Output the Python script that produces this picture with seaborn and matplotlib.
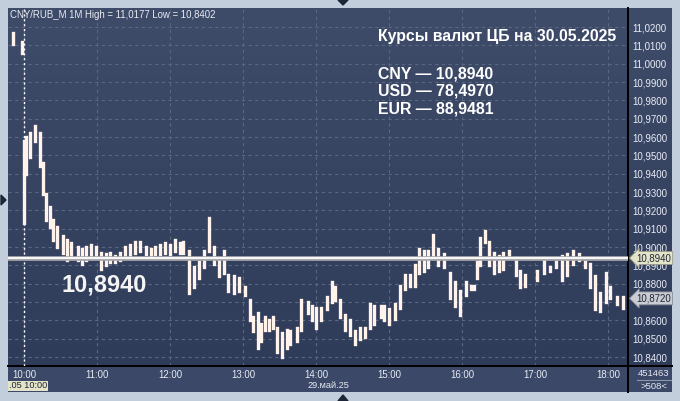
import numpy as np
import pandas as pd
import matplotlib
matplotlib.use("Agg")
import matplotlib.pyplot as plt
import seaborn as sns
from matplotlib.patches import Polygon
from matplotlib.lines import Line2D

# ---------------- data ----------------
bar_times = ["09:51", "09:58", "10:00", "10:02", "10:05", "10:09", "10:13", "10:16", "10:18", "10:21",
             "10:24", "10:27", "10:32", "10:35", "10:39", "10:44", "10:48", "10:51", "10:55", "10:59",
             "11:03", "11:07", "11:11", "11:15", "11:19", "11:23", "11:27", "11:31", "11:35", "11:40",
             "11:44", "11:48", "11:52", "11:56", "12:00", "12:04", "12:08", "12:11", "12:16", "12:20",
             "12:24", "12:28", "12:32", "12:36", "12:40", "12:44", "12:48", "12:53", "12:57", "13:02",
             "13:06", "13:08", "13:12", "13:15", "13:18", "13:21", "13:25", "13:28", "13:32", "13:36",
             "13:39", "13:44", "13:48", "13:53", "13:57", "14:00", "14:04", "14:09", "14:13", "14:16",
             "14:20", "14:24", "14:28", "14:32", "14:36", "14:40", "14:44", "14:48", "14:53", "14:56",
             "15:00", "15:05", "15:09", "15:13", "15:17", "15:21", "15:25", "15:29", "15:32", "15:36",
             "15:40", "15:45", "15:50", "15:54", "15:58", "16:03", "16:07", "16:10", "16:12", "16:15",
             "16:19", "16:22", "16:26", "16:30", "16:34", "16:39", "16:44", "16:48", "16:52", "17:02",
             "17:07", "17:12", "17:17", "17:22", "17:26", "17:31", "17:36", "17:41", "17:45", "17:49",
             "17:53", "17:58", "18:02", "18:07", "18:12"]
bar_high = [11.017, 11.012, 10.958, 10.960, 10.962, 10.966, 10.962, 10.946, 10.929, 10.922,
            10.915, 10.911, 10.906, 10.904, 10.902, 10.900, 10.899, 10.900, 10.901, 10.900,
            10.897, 10.896, 10.897, 10.895, 10.897, 10.900, 10.901, 10.903, 10.903, 10.900,
            10.899, 10.900, 10.901, 10.902, 10.901, 10.904, 10.902, 10.903, 10.898, 10.889,
            10.892, 10.898, 10.916, 10.900, 10.894, 10.898, 10.885, 10.884, 10.883, 10.878,
            10.871, 10.862, 10.864, 10.858, 10.862, 10.860, 10.862, 10.856, 10.853, 10.855,
            10.854, 10.856, 10.871, 10.870, 10.868, 10.867, 10.867, 10.873, 10.881, 10.878,
            10.871, 10.863, 10.860, 10.854, 10.856, 10.856, 10.869, 10.868, 10.868, 10.868,
            10.866, 10.869, 10.879, 10.885, 10.885, 10.890, 10.899, 10.898, 10.898, 10.9065,
            10.899, 10.896, 10.886, 10.881, 10.876, 10.881, 10.879, 10.879, 10.892, 10.905,
            10.909, 10.903, 10.897, 10.895, 10.897, 10.898, 10.894, 10.887, 10.885, 10.887,
            10.894, 10.889, 10.892, 10.895, 10.896, 10.898, 10.896, 10.892, 10.891, 10.884,
            10.875, 10.886, 10.878, 10.873, 10.873]
bar_low = [11.011, 11.006, 10.913, 10.940, 10.949, 10.958, 10.944, 10.929, 10.915, 10.911,
           10.904, 10.900, 10.897, 10.893, 10.894, 10.893, 10.891, 10.893, 10.894, 10.895,
           10.888, 10.890, 10.892, 10.892, 10.893, 10.894, 10.895, 10.897, 10.898, 10.896,
           10.895, 10.896, 10.896, 10.897, 10.896, 10.898, 10.897, 10.897, 10.875, 10.878,
           10.883, 10.889, 10.898, 10.891, 10.884, 10.886, 10.876, 10.875, 10.876, 10.874,
           10.860, 10.854, 10.845, 10.849, 10.855, 10.855, 10.856, 10.843, 10.8402, 10.845,
           10.847, 10.849, 10.855, 10.864, 10.860, 10.856, 10.860, 10.866, 10.870, 10.871,
           10.862, 10.855, 10.852, 10.847, 10.850, 10.851, 10.856, 10.858, 10.862, 10.860,
           10.858, 10.861, 10.867, 10.877, 10.879, 10.879, 10.886, 10.887, 10.889, 10.894,
           10.890, 10.889, 10.872, 10.868, 10.863, 10.874, 10.877, 10.877, 10.883, 10.890,
           10.903, 10.890, 10.886, 10.887, 10.888, 10.894, 10.885, 10.878, 10.879, 10.882,
           10.886, 10.887, 10.889, 10.882, 10.885, 10.891, 10.893, 10.889, 10.878, 10.866,
           10.865, 10.870, 10.872, 10.869, 10.867]

price_ticks = [10.84, 10.85, 10.86, 10.87, 10.88, 10.89, 10.90, 10.91, 10.92, 10.93,
               10.94, 10.95, 10.96, 10.97, 10.98, 10.99, 11.00, 11.01, 11.02]
hour_labels = ["10:00", "11:00", "12:00", "13:00", "14:00", "15:00", "16:00", "17:00", "18:00"]
cbr_codes = ["CNY", "USD", "EUR"]
cbr_values = ["10,8940", "78,4970", "88,9481"]
ref_price = 10.894
last_price = 10.872
header = "CNY/RUB_M 1M High = 11,0177 Low = 10,8402"
title = "Курсы валют ЦБ на 30.05.2025"
date_label = "29.май.25"
start_label = ".05 10:00"
volume_label = "451463"
count_label = ">508<"

# ---------------- helpers ----------------
W, H = 680, 401
def fx(x): return x / W
def fy(y): return 1 - y / H
def to_min(s):
    h, m = s.split(":")
    return (int(h) - 10) * 60 + int(m)

plt.rcParams["font.family"] = ["Liberation Sans", "DejaVu Sans"]

fig = plt.figure(figsize=(6.8, 4.01), dpi=100, facecolor="#c3cedc")

# dark panel with gradient
bg = fig.add_axes([fx(8), fy(392), (672 - 8) / W, (392 - 8) / H])
top_c = np.array([63, 76, 105]) / 255
bot_c = np.array([45, 58, 88]) / 255
grad = np.linspace(0, 1, 256)[:, None, None]
img = top_c[None, None, :] * (1 - grad) + bot_c[None, None, :] * grad
bg.imshow(img, aspect="auto", extent=[0, 1, 0, 1])
bg.add_patch(plt.Rectangle((0, 0), 1, 26 / 384, color="#3b4867", zorder=2))
bg.set_axis_off()

# main axes
ax = fig.add_axes([fx(8), fy(366), 620 / W, 358 / H])
ax.set_facecolor("none")

t_min = [to_min(s) for s in bar_times]
df = pd.DataFrame({
    "t": t_min * 2,
    "price": bar_high + bar_low,
    "bar": list(range(len(t_min))) * 2,
})
sns.lineplot(data=df, x="t", y="price", units="bar", estimator=None, sort=False,
             color="#fff3ec", lw=2.4, ax=ax, legend=False, zorder=4)

ax.set_xlim(-13.15, 496.4)
ax.set_ylim(10.8351, 11.0304)
ax.set_xlabel("")
ax.set_ylabel("")

hour_pos = [to_min(s) for s in hour_labels]
ax.set_xticks(hour_pos)
ax.set_xticklabels(hour_labels)
ax.set_yticks(price_ticks)
# label 10,8700 is hidden behind the last-price marker in the reference
ax.set_yticklabels(["" if abs(v - 10.87) < 1e-9 else f"{v:.4f}".replace(".", ",")
                    for v in price_ticks])
ax.yaxis.tick_right()
ax.tick_params(axis="y", length=0, pad=3.0, labelsize=7.0, labelcolor="#e8ecf5")
ax.tick_params(axis="x", length=0, pad=2.6, labelsize=6.9, labelcolor="#e8ecf5")
for lab in ax.get_yticklabels():
    lab.set_horizontalalignment("left")
ax.grid(True, color="#5a6781", lw=0.8, ls=(0, (3, 3)))
ax.set_axisbelow(True)
for s in ["top", "left"]:
    ax.spines[s].set_visible(False)
ax.spines["right"].set_color("black")
ax.spines["right"].set_linewidth(1.4)
ax.spines["bottom"].set_color("black")
ax.spines["bottom"].set_linewidth(1.4)

# session start marker
ax.axvline(0, color="white", lw=1.0, ls=(0, (1.5, 2)), zorder=3)

# reference price line
ax.axhline(ref_price, color="#a9a9ad", lw=3.4, zorder=5)
ax.axhline(ref_price, color="#ffffff", lw=1.3, zorder=6)

# price markers on right axis
ref_txt = f"{ref_price:.4f}".replace(".", ",")
last_txt = f"{last_price:.4f}".replace(".", ",")
ax.annotate(ref_txt, xy=(1.0, ref_price), xycoords=("axes fraction", "data"),
            xytext=(6, 0), textcoords="offset points", va="center", ha="left",
            fontsize=6.9, color="#1e2535", zorder=8, annotation_clip=False,
            bbox=dict(boxstyle="larrow,pad=0.15", fc="#e4e4c8", ec="#9a9a88", lw=0.6))
ax.annotate(last_txt, xy=(1.0, last_price), xycoords=("axes fraction", "data"),
            xytext=(6, 0), textcoords="offset points", va="center", ha="left",
            fontsize=6.9, color="#1e2535", zorder=8, annotation_clip=False,
            bbox=dict(boxstyle="larrow,pad=0.15", fc="#c9ccd3", ec="#8a8e98", lw=0.6))

# big price label
fig.text(fx(104), fy(285), ref_txt, fontsize=17, fontweight="bold", color="#f4f4f4",
         ha="center", va="center")

# header and info block
fig.text(fx(10), fy(14.5), header, fontsize=6.9, color="#e8ecf3", ha="left", va="center")
fig.text(fx(378), fy(37), title, fontsize=11.4, fontweight="bold", color="white",
         ha="left", va="center")
for i, (c, v) in enumerate(zip(cbr_codes, cbr_values)):
    fig.text(fx(378), fy(74 + 17.5 * i), f"{c} — {v}", fontsize=11.4, fontweight="bold",
             color="white", ha="left", va="center")

# bottom panel texts
fig.text(fx(328), fy(386), date_label, fontsize=6.6, color="#e6eaf2", ha="center", va="center")
fig.text(fx(9), fy(386), start_label, fontsize=6.6, color="#1e2535", ha="left", va="center",
         bbox=dict(boxstyle="square,pad=0.08", fc="#e4e4c8", ec="none"))
fig.text(fx(654), fy(373), volume_label, fontsize=6.8, color="#e6eaf2", ha="center", va="center")
fig.text(fx(654), fy(386.5), count_label, fontsize=6.8, color="#e6eaf2", ha="center", va="center")
fig.add_artist(Line2D([fx(637), fx(671)], [fy(380), fy(380)], color="#8d97aa", lw=0.8))

# black separators extending into panels
fig.add_artist(Line2D([fx(628), fx(628)], [fy(366), fy(392)], color="black", lw=1.4))
fig.add_artist(Line2D([fx(628), fx(672)], [fy(366), fy(366)], color="black", lw=1.4))

# small navigation triangles
tri_c = "#1c2638"
fig.add_artist(Polygon([[fx(338), fy(0)], [fx(348), fy(0)], [fx(343), fy(5)]], closed=True,
                       color=tri_c, transform=fig.transFigure))
fig.add_artist(Polygon([[fx(338), fy(401)], [fx(348), fy(401)], [fx(343), fy(395)]], closed=True,
                       color=tri_c, transform=fig.transFigure))
fig.add_artist(Polygon([[fx(1), fy(195)], [fx(1), fy(205)], [fx(6), fy(200)]], closed=True,
                       color=tri_c, transform=fig.transFigure))

fig.savefig("out.png", dpi=100, facecolor=fig.get_facecolor())
